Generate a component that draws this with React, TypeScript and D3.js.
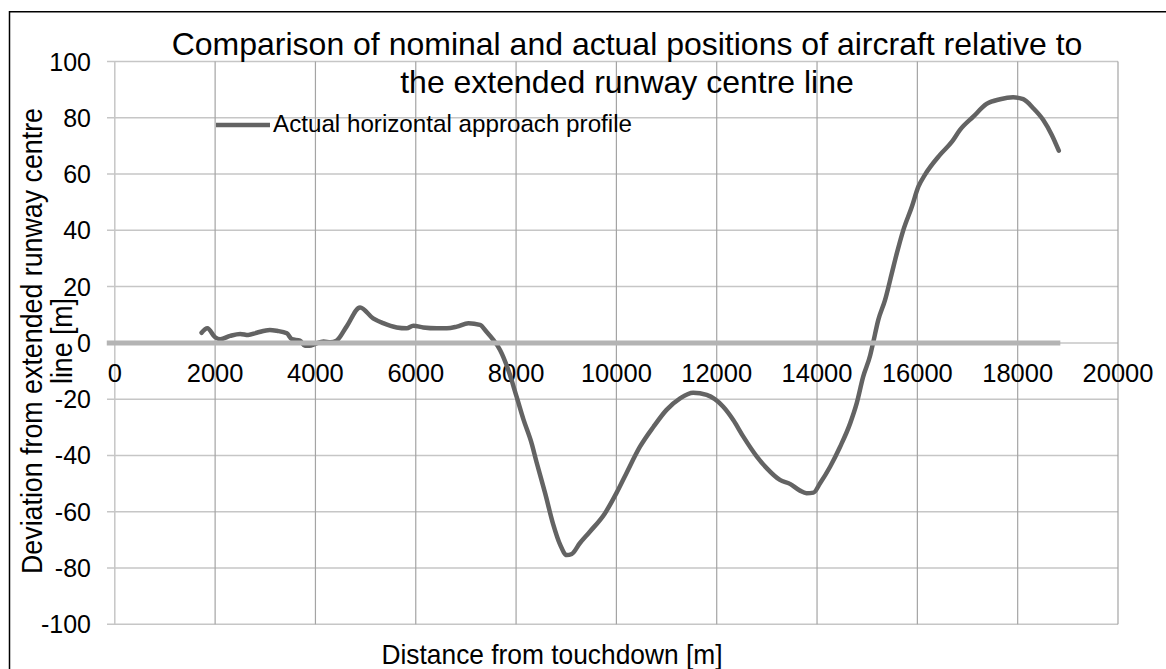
import React from "react";
import * as d3 from "d3";

const distance = [
  1730, 1845, 2000, 2100, 2300, 2500, 2660, 2830, 3090, 3230, 3430, 3530, 3690, 3790, 3880,
  4000, 4160, 4300, 4420, 4620, 4890, 5150, 5350, 5620, 5820, 5950, 6150, 6420, 6620, 6820,
  7050, 7280, 7410, 7550, 7680, 7845, 8010, 8145, 8310, 8410, 8580, 8740, 8880, 9010, 9110,
  9270, 9470, 9770, 10000, 10200, 10470, 10740, 11000, 11270, 11530, 11800, 12130, 12330,
  12530, 12800, 13000, 13260, 13460, 13660, 13790, 13930, 14060, 14260, 14460, 14660, 14790,
  14920, 15060, 15120, 15220, 15355, 15490, 15590, 15720, 15890, 16020, 16150, 16450, 16690,
  16850, 17115, 17380, 17650, 17910, 18110, 18310, 18510, 18680, 18820,
];
const deviation = [
  3.6, 5.2, 2.0, 1.3, 2.5, 3.2, 2.8, 3.6, 4.6, 4.3, 3.4, 1.3, 0.8, -1.0, -1.0,
  -0.3, 0.5, 0.2, 0.8, 5.8, 12.6, 8.7, 7.0, 5.5, 5.2, 6.1, 5.5, 5.2, 5.2, 5.8,
  7.0, 6.4, 4.0, 1.0, -2.5, -9.6, -19.1, -27.1, -35.7, -42.5, -53.5, -64.5, -71.8, -75.4, -75.0,
  -71.2, -67.1, -60.6, -53.4, -46.3, -36.9, -29.8, -23.8, -19.7, -17.7, -18.5, -22.7, -27.4,
  -33.3, -40.4, -44.6, -48.7, -50.1, -52.5, -53.4, -53.2, -49.9, -44, -36.9, -28.6, -21.5,
  -12.0, -4.4, 0.2, 8.1, 15.2, 24.7, 31.8, 40.1, 48.4, 55.5, 59.7, 66.8, 71.5,
  75.7, 80.4, 84.9, 86.6, 87.3, 86.6, 83.4, 79.2, 73.9, 68.3,
];
const nominalDistance = [-160, 18850];
const nominalDeviation = [0, 0];
const xTicks = [0, 2000, 4000, 6000, 8000, 10000, 12000, 14000, 16000, 18000, 20000];
const yTicks = [-100, -80, -60, -40, -20, 0, 20, 40, 60, 80, 100];
const titleLines = [
  "Comparison of nominal and actual positions of aircraft relative to",
  "the extended runway centre line",
];
const yTitleLines = ["Deviation from extended runway centre", "line [m]"];
const xTitle = "Distance from touchdown [m]";
const legendLabel = "Actual horizontal approach profile";

const FONT = "'Liberation Sans', Arial, sans-serif";

export default function App() {
  const x = d3.scaleLinear().domain([0, 20000]).range([114.8, 1118]);
  const y = d3.scaleLinear().domain([-100, 100]).range([624.3, 61.5]);

  const actual = distance.map((d, i) => [d, deviation[i]] as [number, number]);
  const nominal = nominalDistance.map((d, i) => [d, nominalDeviation[i]] as [number, number]);

  const line = d3
    .line<[number, number]>()
    .x((d) => x(d[0]))
    .y((d) => y(d[1]))
    .curve(d3.curveMonotoneX);

  const [, x1] = x.range();
  const [yb, yt] = y.range();

  return (
    <svg
      width={1166}
      height={669}
      style={{ position: "absolute", left: 0, top: 0, background: "#fff" }}
      fontFamily={FONT}
    >
      <rect x={0} y={0} width={1166} height={669} fill="#fff" />
      <path d="M9.5,700 V11.7 H1170" fill="none" stroke="#000" strokeWidth={1.5} />

      {/* horizontal gridlines */}
      {yTicks.map((t) => (
        <line key={"h" + t} x1={107} x2={x1} y1={y(t)} y2={y(t)} stroke="#c6c6c6" strokeWidth={1.5} />
      ))}
      {/* vertical gridlines */}
      {xTicks.map((t) => (
        <line
          key={"v" + t}
          x1={x(t)}
          x2={x(t)}
          y1={yt}
          y2={yb}
          stroke={t === 0 ? "#c6c6c6" : "#a4a4a4"}
          strokeWidth={t === 0 ? 1.5 : 1.2}
        />
      ))}

      {/* y tick labels */}
      {yTicks.map((t) => (
        <text key={"yl" + t} x={91} y={y(t) + 9} fontSize={25} textAnchor="end" fill="#000">
          {t}
        </text>
      ))}
      {/* x tick labels */}
      {xTicks.map((t) => (
        <text key={"xl" + t} x={x(t)} y={382} fontSize={25.5} textAnchor="middle" fill="#000">
          {t}
        </text>
      ))}

      {/* series */}
      <path d={line(actual) || ""} fill="none" stroke="#636363" strokeWidth={4.5} strokeLinejoin="round" strokeLinecap="round" />
      <path d={line(nominal) || ""} fill="none" stroke="#b4b4b4" strokeWidth={5} />

      {/* title */}
      <text x={627} y={55} fontSize={32} textAnchor="middle" fill="#000">
        {titleLines[0]}
      </text>
      <text x={627} y={92.5} fontSize={32} textAnchor="middle" fill="#000">
        {titleLines[1]}
      </text>

      {/* legend */}
      <line x1={216} x2={270} y1={125} y2={125} stroke="#636363" strokeWidth={4.5} />
      <text x={273} y={131.5} fontSize={24.2} fill="#000">
        {legendLabel}
      </text>

      {/* axis titles */}
      <text
        x={552}
        y={664}
        fontSize={28.5}
        textAnchor="middle"
        textLength={341}
        lengthAdjust="spacingAndGlyphs"
        fill="#000"
      >
        {xTitle}
      </text>
      <text
        transform="translate(42,341) rotate(-90)"
        fontSize={29}
        textAnchor="middle"
        textLength={466}
        lengthAdjust="spacingAndGlyphs"
        fill="#000"
      >
        {yTitleLines[0]}
      </text>
      <text
        transform="translate(72,341) rotate(-90)"
        fontSize={29}
        textAnchor="middle"
        textLength={86}
        lengthAdjust="spacingAndGlyphs"
        fill="#000"
      >
        {yTitleLines[1]}
      </text>
    </svg>
  );
}
